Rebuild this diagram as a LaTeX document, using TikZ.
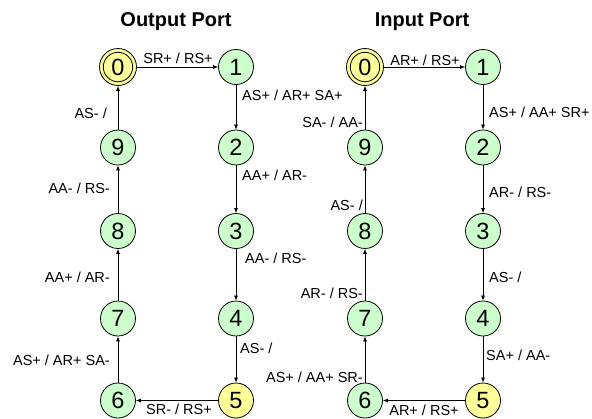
\documentclass[tikz,border=0pt]{standalone}
\usepackage{fontspec}
\setmainfont{Liberation Sans}
\usetikzlibrary{arrows.meta}
\definecolor{stgreen}{HTML}{CCFFCC}
\definecolor{styellow}{HTML}{FFFF99}
\tikzset{
  state/.style={circle, draw=black, line width=0.8pt, fill=stgreen, minimum size=35pt,
    inner sep=0pt, font=\fontsize{23.5}{23.5}\selectfont},
  hold/.style={state, fill=styellow},
  home/.style={state, fill=styellow, minimum size=37pt},
  trans/.style={draw=black, line width=0.7pt, -{Latex[length=5pt,width=4pt]}},
  lbl/.style={inner sep=0pt, font=\fontsize{14.5}{14.5}\selectfont},
  ttl/.style={inner sep=0pt, font=\fontsize{20}{20}\selectfont\bfseries}
}
\begin{document}
\begin{tikzpicture}[x=1pt, y=-1pt]
\useasboundingbox (0,0) rectangle (592,418);
\fill[white] (0,0) rectangle (592,418);

% titles
\node[ttl] (tout) at (176,22) {Output Port};
\node[ttl] (tin) at (422,22) {Input Port};

% ---- output port handshake states ----
\node[home] (o0) at (118,67) {0};
\draw[line width=0.8pt] (o0) circle (14.7pt);
\node[state] (o1) at (236,67) {1};
\node[state] (o2) at (236,147.5) {2};
\node[state] (o3) at (236,231) {3};
\node[state] (o4) at (236,318.5) {4};
\node[hold]  (o5) at (236,400.5) {5};
\node[state] (o6) at (118,400.5) {6};
\node[state] (o7) at (118,318.5) {7};
\node[state] (o8) at (118,231) {8};
\node[state] (o9) at (118,147.5) {9};

\draw[trans] (o0) -- (o1);
\draw[trans] (o1) -- (o2);
\draw[trans] (o2) -- (o3);
\draw[trans] (o3) -- (o4);
\draw[trans] (o4) -- (o5);
\draw[trans] (o5) -- (o6);
\draw[trans] (o6) -- (o7);
\draw[trans] (o7) -- (o8);
\draw[trans] (o8) -- (o9);
\draw[trans] (o9) -- (o0);

\node[lbl, anchor=base] (ol01) at (178,63) {SR+ / RS+};
\node[lbl, anchor=base west] (ol12) at (242,100) {AS+ / AR+ SA+};
\node[lbl, anchor=base west] (ol23) at (242,180) {AA+ / AR-};
\node[lbl, anchor=base west] (ol34) at (245,263) {AA- / RS-};
\node[lbl, anchor=base west] (ol45) at (240,353) {AS- /};
\node[lbl, anchor=base] (ol56) at (179,414.5) {SR- / RS+};
\node[lbl, anchor=base east] (ol67) at (110,365) {AS+ / AR+ SA-};
\node[lbl, anchor=base east] (ol78) at (110,282) {AA+ / AR-};
\node[lbl, anchor=base east] (ol89) at (110,193) {AA- / RS-};
\node[lbl, anchor=base east] (ol90) at (107,118) {AS- /};

% ---- input port handshake states ----
\node[home] (i0) at (365,67) {0};
\draw[line width=0.8pt] (i0) circle (14.7pt);
\node[state] (i1) at (483,67) {1};
\node[state] (i2) at (483,147.5) {2};
\node[state] (i3) at (483,231) {3};
\node[state] (i4) at (483,318.5) {4};
\node[hold]  (i5) at (483,400.5) {5};
\node[state] (i6) at (365,400.5) {6};
\node[state] (i7) at (365,318.5) {7};
\node[state] (i8) at (365,231) {8};
\node[state] (i9) at (365,147.5) {9};

\draw[trans] (i0) -- (i1);
\draw[trans] (i1) -- (i2);
\draw[trans] (i2) -- (i3);
\draw[trans] (i3) -- (i4);
\draw[trans] (i4) -- (i5);
\draw[trans] (i5) -- (i6);
\draw[trans] (i6) -- (i7);
\draw[trans] (i7) -- (i8);
\draw[trans] (i8) -- (i9);
\draw[trans] (i9) -- (i0);

\node[lbl, anchor=base] (il01) at (425,65) {AR+ / RS+};
\node[lbl, anchor=base west] (il12) at (489,117) {AS+ / AA+ SR+};
\node[lbl, anchor=base west] (il23) at (489,197) {AR- / RS-};
\node[lbl, anchor=base west] (il34) at (489,282) {AS- /};
\node[lbl, anchor=base west] (il45) at (486,360) {SA+ / AA-};
\node[lbl, anchor=base] (il56) at (424,415.5) {AR+ / RS+};
\node[lbl, anchor=base east] (il67) at (363,382) {AS+ / AA+ SR-};
\node[lbl, anchor=base east] (il78) at (363,298) {AR- / RS-};
\node[lbl, anchor=base east] (il89) at (363,210) {AS- /};
\node[lbl, anchor=base east] (il90) at (363,127) {SA- / AA-};
\end{tikzpicture}
\end{document}
